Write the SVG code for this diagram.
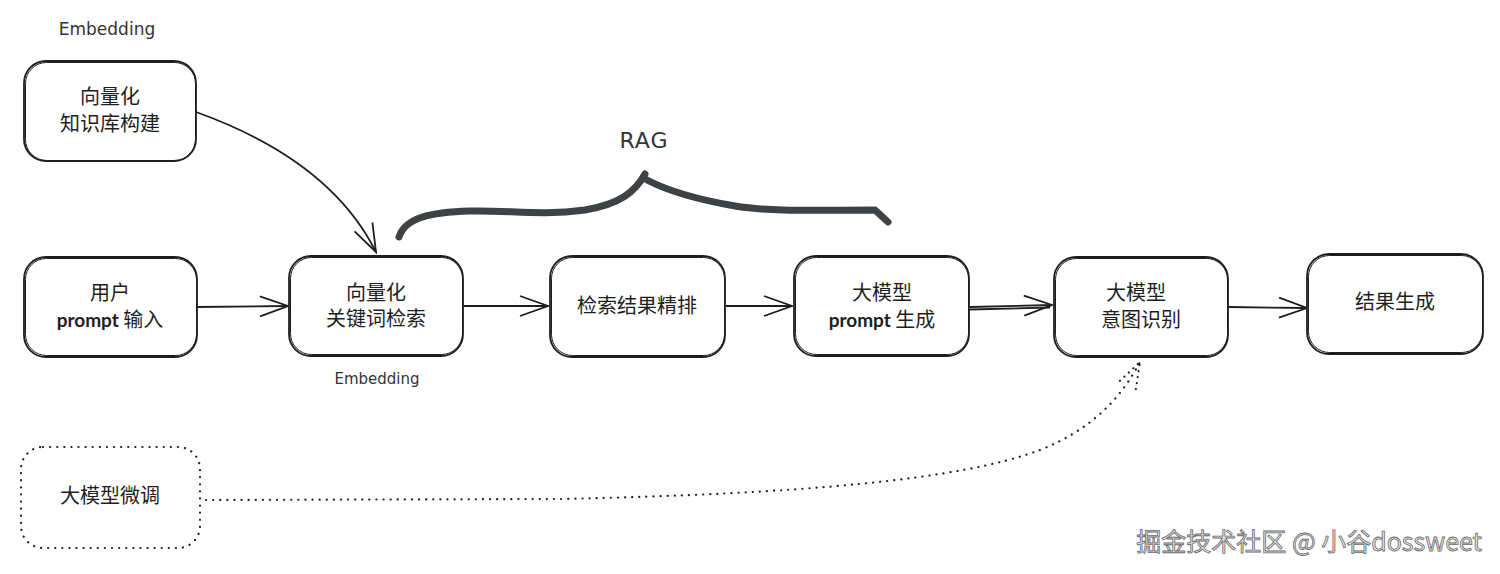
<svg xmlns="http://www.w3.org/2000/svg" width="1500" height="574" viewBox="0 0 1500 574">
<style>
.box{fill:#fff;stroke:#1e1e1e;stroke-width:1.8}
.box2{fill:none;stroke:#1e1e1e;stroke-width:1}
.dot{fill:#fff;stroke:#1e1e1e;stroke-width:2.2;stroke-dasharray:0.1 7;stroke-linecap:round}
.t{font-family:"Noto Sans CJK SC","Noto Sans",sans-serif;font-size:20px;fill:#1e1e1e;text-anchor:middle}
.p{font-family:"Lato","Noto Sans",sans-serif;font-weight:bold;font-size:19px}
.hand{font-family:"DejaVu Sans",sans-serif;fill:#333;text-anchor:middle}
.c{fill:none;stroke:#1e1e1e;stroke-width:1.8}
.cd{fill:none;stroke:#1e1e1e;stroke-width:2.2;stroke-dasharray:0.1 7;stroke-linecap:round}
.wm{font-family:"Noto Sans CJK SC",sans-serif;font-size:25px;fill:#e6e6e6;stroke:#6a6a6a;stroke-width:0.8}
</style>
<defs>
<marker id="ah" viewBox="-30 -12 32 24" refX="0" refY="0" markerWidth="32" markerHeight="24" markerUnits="userSpaceOnUse" orient="auto">
<path d="M-28,-10 L0,0 L-28,10" fill="none" stroke="#1e1e1e" stroke-width="1.8"/>
</marker>
<marker id="ahd" viewBox="-30 -12 32 24" refX="0" refY="0" markerWidth="32" markerHeight="24" markerUnits="userSpaceOnUse" orient="auto">
<path d="M-26,-9 L0,0 L-26,9" fill="none" stroke="#1e1e1e" stroke-width="2.2" stroke-dasharray="0.1 6" stroke-linecap="round"/>
</marker>
</defs>
<rect width="1500" height="574" fill="#fff"/>

<g id="connectors">
<path class="c" d="M196,112 Q330,160 376,252" marker-end="url(#ah)"/>
<path class="c" d="M197,307 L288,306" marker-end="url(#ah)"/>
<path class="c" d="M463,306 L548,306" marker-end="url(#ah)"/>
<path class="c" d="M726,306 L792,306" marker-end="url(#ah)"/>
<path class="c" d="M970,307 L1052,305" marker-end="url(#ah)"/>
<path class="c" d="M970,309.5 L1050,307.5"/>
<path class="c" d="M1228,307 L1307,308" marker-end="url(#ah)"/>
<path class="cd" d="M206,500 L560,499 C800,494 960,480 1040,450 C1090,430 1120,400 1140,362" marker-end="url(#ahd)"/>
</g>

<g id="brace">
<path d="M399,237 C405,218 430,212 470,211 C510,210 540,216 585,210 C620,204 635,192 645,174 M647,180 C670,192 700,200 735,206 C770,212 820,210 875,210 L888,222" fill="none" stroke="#3f4244" stroke-width="7" stroke-linecap="round" stroke-linejoin="round"/>
<text class="hand" x="644" y="148" font-size="22" letter-spacing="1">RAG</text>
</g>

<g id="label-embedding-top"><text class="hand" x="107" y="35" font-size="17">Embedding</text></g>
<g id="label-embedding-bottom"><text class="hand" x="377" y="384" font-size="15">Embedding</text></g>

<g id="n-kb">
<rect class="box" x="24" y="61" width="172" height="100" rx="22"/>
<rect class="box2" x="25.5" y="62.5" width="170" height="98" rx="21"/>
<text class="t" x="110" y="104">向量化</text>
<text class="t" x="110" y="131">知识库构建</text>
</g>

<g id="n-user">
<rect class="box" x="24" y="257" width="173" height="100" rx="22"/>
<rect class="box2" x="25.5" y="258.5" width="171" height="97" rx="21"/>
<text class="t" x="110" y="300">用户</text>
<text class="t" x="110" y="327"><tspan class="p">prompt</tspan> 输入</text>
</g>

<g id="n-search">
<rect class="box" x="289" y="256" width="174" height="100" rx="22"/>
<rect class="box2" x="290.5" y="257.5" width="172" height="97" rx="21"/>
<text class="t" x="376" y="300">向量化</text>
<text class="t" x="376" y="326">关键词检索</text>
</g>

<g id="n-rerank">
<rect class="box" x="550" y="256" width="175" height="101" rx="22"/>
<rect class="box2" x="551.5" y="257.5" width="173" height="98" rx="21"/>
<text class="t" x="637" y="313">检索结果精排</text>
</g>

<g id="n-prompt">
<rect class="box" x="794" y="256" width="175" height="100" rx="22"/>
<rect class="box2" x="795.5" y="257.5" width="173" height="97" rx="21"/>
<text class="t" x="882" y="300">大模型</text>
<text class="t" x="882" y="327"><tspan class="p">prompt</tspan> 生成</text>
</g>

<g id="n-intent">
<rect class="box" x="1054" y="257" width="174" height="100" rx="22"/>
<rect class="box2" x="1055.5" y="258.5" width="172" height="97" rx="21"/>
<text class="t" x="1136" y="300">大模型</text>
<text class="t" x="1141" y="327">意图识别</text>
</g>

<g id="n-result">
<rect class="box" x="1307" y="254" width="176" height="100" rx="22"/>
<rect class="box2" x="1308.5" y="255.5" width="174" height="97" rx="21"/>
<text class="t" x="1395" y="309">结果生成</text>
</g>

<g id="n-finetune">
<rect class="dot" x="21" y="447" width="179" height="101" rx="22"/>
<text class="t" x="110" y="503">大模型微调</text>
</g>

<g id="watermark">
<text class="wm" x="1482" y="551" text-anchor="end">掘金技术社区 @ 小谷dossweet</text>
</g>
</svg>
